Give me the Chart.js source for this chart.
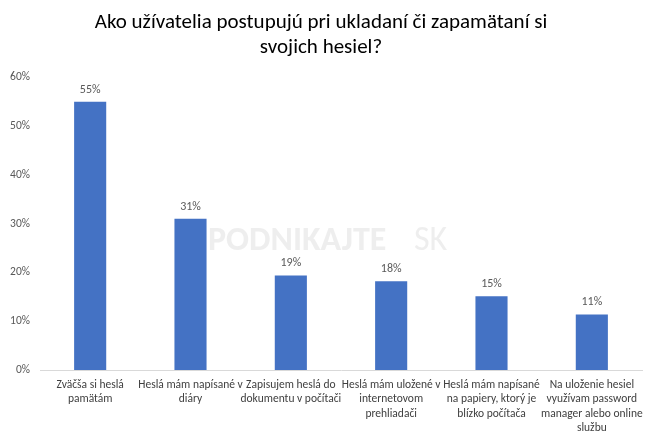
<!DOCTYPE html>
<html>
<head>
<meta charset="utf-8">
<script src="https://cdn.jsdelivr.net/npm/chart.js@4/dist/chart.umd.min.js"></script>
<style>
html,body{margin:0;padding:0;background:#fff;}
#wrap{width:656px;height:436px;position:relative;}
</style>
</head>
<body>
<div id="wrap"><canvas id="c" width="656" height="436"></canvas></div>
<script>
const titleLines = ["Ako užívatelia postupujú pri ukladaní či zapamätaní si", "svojich hesiel?"];
const categories = [
  ["Zväčša si heslá", "pamätám"],
  ["Heslá mám napísané v", "diáry"],
  ["Zapisujem heslá do", "dokumentu v počítači"],
  ["Heslá mám uložené v", "internetovom", "prehliadači"],
  ["Heslá mám napísané", "na papiery, ktorý je", "blízko počítača"],
  ["Na uloženie hesiel", "využívam password", "manager alebo online", "službu"]
];
const values = [55, 31, 19.4, 18.2, 15.1, 11.4];
const yTicks = [0, 10, 20, 30, 40, 50, 60];

const FONT = 'Carlito, Calibri, "Liberation Sans", Arial, sans-serif';

const labelPlugin = {
  id: 'barLabels',
  afterDatasetsDraw(chart) {
    const ctx = chart.ctx;
    const meta = chart.getDatasetMeta(0);
    ctx.save();
    ctx.font = '12px ' + FONT;
    ctx.fillStyle = '#595959';
    ctx.textAlign = 'center';
    ctx.textBaseline = 'bottom';
    meta.data.forEach((bar, i) => {
      ctx.fillText(Math.round(values[i]) + '%', bar.x, bar.y - 6);
    });
    ctx.restore();
  }
};

const watermark = {
  id: 'watermark',
  beforeDatasetsDraw(chart) {
    const ctx = chart.ctx;
    ctx.save();
    ctx.font = 'bold 34px ' + FONT;
    ctx.fillStyle = 'rgba(200,200,200,0.3)';
    ctx.textAlign = 'left';
    ctx.textBaseline = 'middle';
    ctx.fillText('PODNIKAJTE', 208, 241);
    ctx.font = '34px ' + FONT;
    ctx.fillText('SK', 414, 241);
    ctx.restore();
  }
};

new Chart(document.getElementById('c'), {
  type: 'bar',
  data: {
    labels: categories,
    datasets: [{
      data: values,
      backgroundColor: '#4472C4',
      borderWidth: 0,
      categoryPercentage: 1,
      barPercentage: 0.32
    }]
  },
  options: {
    responsive: false,
    animation: false,
    devicePixelRatio: 1,
    layout: { padding: { top: 10, right: 14, left: 0, bottom: 0 } },
    plugins: {
      legend: { display: false },
      tooltip: { enabled: false },
      title: {
        display: true,
        text: titleLines,
        color: '#000',
        font: { family: FONT, size: 21, weight: 'normal', lineHeight: 1.2 },
        padding: { top: 0, bottom: 17 }
      }
    },
    scales: {
      x: {
        grid: { display: false, drawTicks: false },
        border: { display: true, color: '#d9d9d9' },
        ticks: {
          color: '#404040',
          font: { family: FONT, size: 11.5, lineHeight: 1.25 },
          maxRotation: 0, autoSkip: false, padding: 8
        },
        afterFit(s) { s.height = 66; }
      },
      y: {
        min: 0, max: 60,
        grid: { display: false, drawTicks: false },
        border: { display: false },
        afterBuildTicks(s) { s.ticks = yTicks.map(v => ({ value: v })); },
        ticks: {
          color: '#595959',
          font: { family: FONT, size: 11.5 },
          padding: 10,
          callback: v => v + '%'
        },
        afterFit(s) { s.width = 40; }
      }
    }
  },
  plugins: [watermark, labelPlugin]
});
</script>
</body>
</html>
